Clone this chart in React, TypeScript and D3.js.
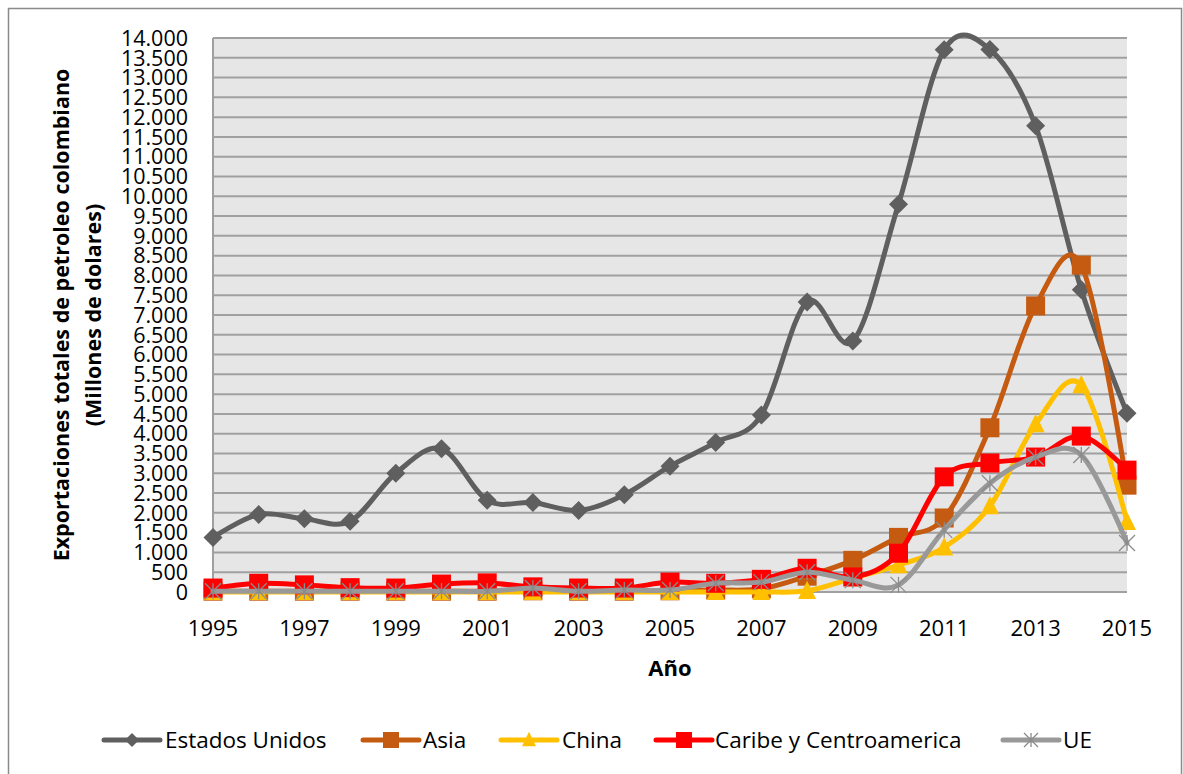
import React from "react";
import * as d3 from "d3";

const years = [1995,1996,1997,1998,1999,2000,2001,2002,2003,2004,2005,2006,2007,2008,2009,2010,2011,2012,2013,2014,2015];
const estadosUnidos = [1380,1960,1850,1790,3000,3620,2320,2260,2060,2460,3180,3780,4470,7330,6340,9800,13700,13710,11780,7640,4520];
const asia = [20,20,20,20,20,20,20,30,20,20,30,50,80,400,800,1380,1870,4150,7230,8260,2700];
const china = [0,0,0,0,0,0,0,0,0,0,0,0,0,30,350,680,1130,2170,4240,5230,1770];
const caribe = [100,220,180,110,100,200,230,130,100,100,250,220,320,600,380,980,2910,3260,3410,3940,3080];
const ue = [20,20,20,20,20,20,20,100,20,50,50,220,250,500,300,180,1570,2750,3410,3460,1240];
const seriesNames = ["Estados Unidos","Asia","China","Caribe y Centroamerica","UE"];
const yTicks = d3.range(0, 14001, 500);
const xTickYears = years.filter((y) => (y - 1995) % 2 === 0);

const FONT = "'Open Sans', 'DejaVu Sans', sans-serif";

type Series = { name: string; values: number[]; color: string; markerColor: string; marker: string };

const series: Series[] = [
  { name: seriesNames[0], values: estadosUnidos, color: "#5f5f5f", markerColor: "#5f5f5f", marker: "diamond" },
  { name: seriesNames[1], values: asia, color: "#c55a11", markerColor: "#c55a11", marker: "square" },
  { name: seriesNames[2], values: china, color: "#ffc000", markerColor: "#ffc000", marker: "triangle" },
  { name: seriesNames[3], values: caribe, color: "#ff0000", markerColor: "#ff0000", marker: "square" },
  { name: seriesNames[4], values: ue, color: "#999999", markerColor: "#8c8c8c", marker: "star" },
];

function Marker({ type, x, y, color, s }: { type: string; x: number; y: number; color: string; s: number }) {
  if (type === "diamond") {
    const r = s / 2;
    return <path d={`M${x},${y - r}L${x + r},${y}L${x},${y + r}L${x - r},${y}Z`} fill={color} />;
  }
  if (type === "square") {
    return <rect x={x - s / 2} y={y - s / 2} width={s} height={s} fill={color} />;
  }
  if (type === "triangle") {
    const h = s * 0.9;
    return <path d={`M${x},${y - h / 2 - 2}L${x + s / 2},${y + h / 2}L${x - s / 2},${y + h / 2}Z`} fill={color} />;
  }
  const r = s / 2;
  return (
    <g stroke={color} strokeWidth={1.3}>
      <line x1={x - r} y1={y - r} x2={x + r} y2={y + r} />
      <line x1={x - r} y1={y + r} x2={x + r} y2={y - r} />
      <line x1={x} y1={y - r} x2={x} y2={y + r} />
    </g>
  );
}

export default function App() {
  const W = 1183, H = 774;
  const left = 213, right = 1127, top = 38, bottom = 592;
  const x = d3.scalePoint<number>().domain(years).range([left, right]);
  const y = d3.scaleLinear().domain([0, 14000]).range([bottom, top]);
  const line = d3
    .line<number>()
    .x((_, i) => x(years[i]) as number)
    .y((v) => y(v))
    .curve(d3.curveCatmullRom.alpha(0));

  const markerSize: Record<string, number> = { diamond: 19, square: 19, triangle: 18, star: 16 };
  const legendItems = [
    { lx: 104, tx: 165 },
    { lx: 363, tx: 423 },
    { lx: 501, tx: 562 },
    { lx: 656, tx: 715 },
    { lx: 1003, tx: 1063 },
  ];
  const legendY = 740;

  return (
    <svg width={W} height={H} style={{ position: "absolute", left: 0, top: 0, background: "#fff" }} fontFamily={FONT}>
      <rect x={0} y={0} width={W} height={H} fill="#fff" />
      <rect x={8.5} y={8.5} width={1173} height={800} fill="none" stroke="#8a8a8a" strokeWidth={1.5} />
      <rect x={left} y={top} width={right - left} height={bottom - top} fill="#e6e6e6" />
      {yTicks.map((t) => (
        <line key={t} x1={left} x2={right} y1={y(t)} y2={y(t)} stroke="#a0a0a0" strokeWidth={2} />
      ))}
      <line x1={left} x2={left} y1={top} y2={bottom} stroke="#a0a0a0" strokeWidth={2} />
      {yTicks.map((t) => (
        <text key={t} x={188} y={y(t)} dy="0.36em" textAnchor="end" fontSize={21.5} fill="#000">
          {d3.format(",")(t).replace(/,/g, ".")}
        </text>
      ))}
      {xTickYears.map((yr) => (
        <text key={yr} x={x(yr)} y={636} textAnchor="middle" fontSize={22} fill="#000">
          {yr}
        </text>
      ))}
      <text x={670} y={676} textAnchor="middle" fontSize={22} fontWeight="bold" fill="#000">Año</text>
      <g transform="translate(0,315) rotate(-90)">
        <text x={0} y={69} textAnchor="middle" fontSize={21.5} fontWeight="bold" fill="#000">
          Exportaciones totales de petroleo colombiano
        </text>
        <text x={0} y={101} textAnchor="middle" fontSize={21.5} fontWeight="bold" fill="#000">
          (Millones de dolares)
        </text>
      </g>
      {series.map((s) => (
        <g key={s.name}>
          <path d={line(s.values) || ""} fill="none" stroke={s.color} strokeWidth={5} strokeLinejoin="round" strokeLinecap="round" />
          {s.values.map((v, i) => (
            <Marker key={i} type={s.marker} x={x(years[i]) as number} y={y(v)} color={s.markerColor} s={markerSize[s.marker]} />
          ))}
        </g>
      ))}
      {series.map((s, i) => {
        const it = legendItems[i];
        return (
          <g key={s.name}>
            <line x1={it.lx} x2={it.lx + 56} y1={legendY} y2={legendY} stroke={s.color} strokeWidth={5} strokeLinecap="round" />
            <Marker type={s.marker} x={it.lx + 28} y={legendY} color={s.markerColor} s={s.marker === "square" ? 16 : 14} />
            <text x={it.tx} y={legendY} dy="0.36em" fontSize={22.5} fill="#000">{s.name}</text>
          </g>
        );
      })}
    </svg>
  );
}
